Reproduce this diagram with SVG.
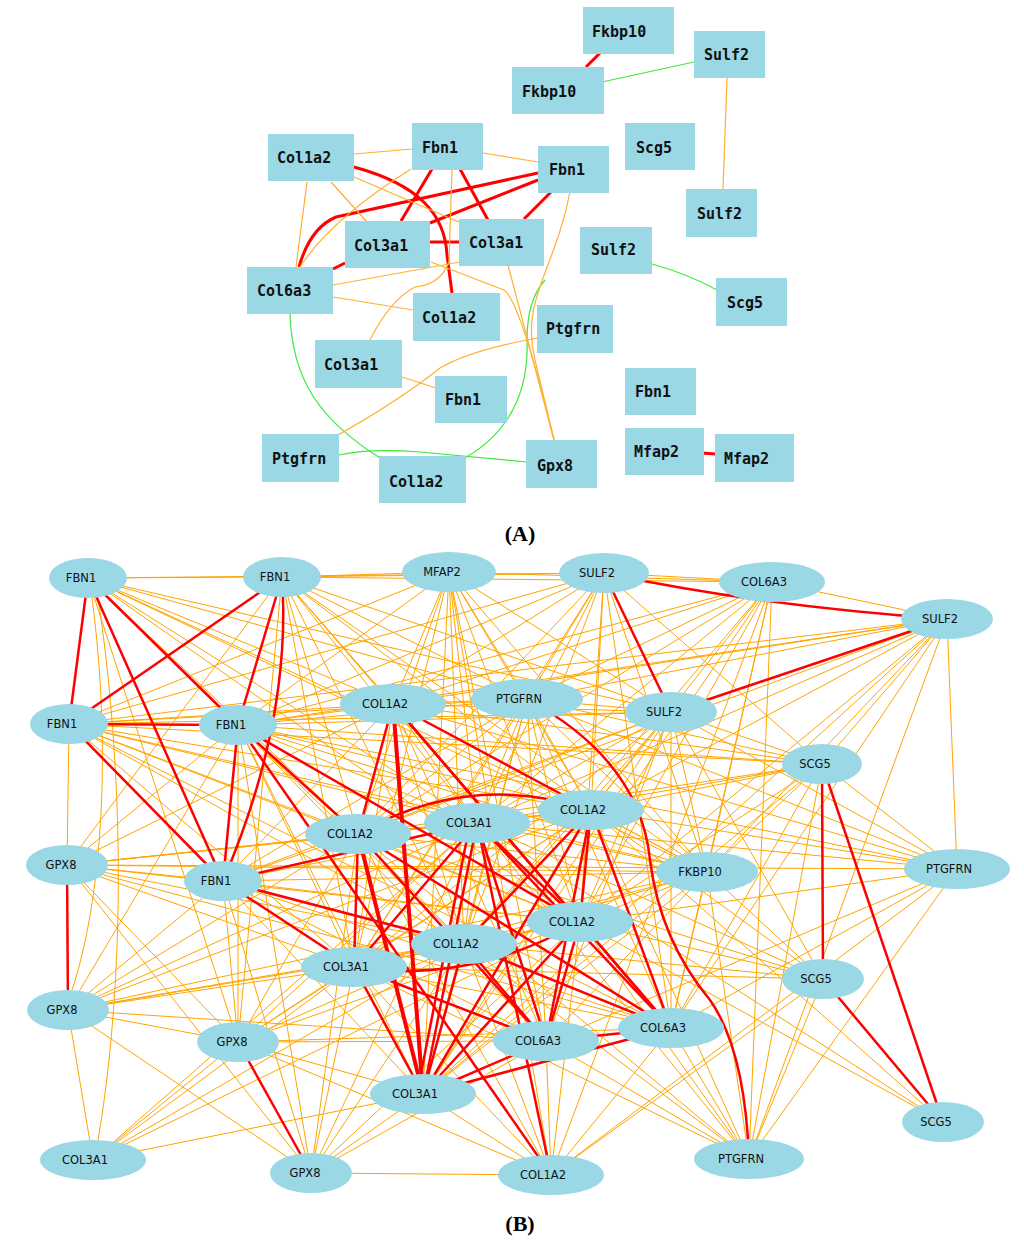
<svg xmlns="http://www.w3.org/2000/svg" width="1024" height="1247" viewBox="0 0 1024 1247">
<style>
.o{stroke:#FFA500;stroke-width:1;fill:none}
.r{stroke:#F00;stroke-width:2.5;fill:none}
.rw{stroke:#F00;stroke-width:4;fill:none}
.ra{stroke:#F00;stroke-width:3;fill:none}
.g{stroke:#3EE83E;stroke-width:1.2;fill:none}
.oa{stroke:#FFB030;stroke-width:1.2;fill:none}
.n rect,.n ellipse{fill:#9AD8E6}
.ta{font-family:"DejaVu Sans Mono",monospace;font-weight:bold;font-size:15px;fill:#111}
.tb{font-family:"DejaVu Sans",sans-serif;font-size:11.5px;fill:#111;text-anchor:middle}
.cap{font-family:"Liberation Serif",serif;font-weight:bold;font-size:22px;text-anchor:middle;fill:#000}
</style>
<rect width="1024" height="1247" fill="#fff"/>

<g id="edges-A">
<path class="ra" d="M600 53L586 67"/>
<path class="ra" d="M354 167C420 185 445 215 447 255L452 293"/>
<path class="ra" d="M432 169L401 221"/>
<path class="ra" d="M460 169L488 220"/>
<path class="ra" d="M538 180L430 223"/>
<path class="ra" d="M538 173L336 217Q310 228 299 267"/>
<path class="ra" d="M551 192L524 219"/>
<path class="ra" d="M430 242L459 242"/>
<path class="ra" d="M333 269L345 263"/>
<path class="ra" d="M702 453L715 454"/>
<path class="g" d="M602 82L694 62"/>
<path class="g" d="M652 264Q688 274 717 290"/>
<path class="g" d="M290 314C292 380 320 420 380 458"/>
<path class="g" d="M339 455Q370 448 420 452L527 462"/>
<path class="g" d="M465 458Q530 420 527 340Q527 300 545 280"/>
<path class="oa" d="M727 78L723 189"/>
<path class="oa" d="M354 154L412 149"/>
<path class="oa" d="M483 153L538 162"/>
<path class="oa" d="M307 182L296 267"/>
<path class="oa" d="M331 182L367 222"/>
<path class="oa" d="M354 177L459 222"/>
<path class="oa" d="M411 169Q330 220 300 267"/>
<path class="oa" d="M452 170L449 262Q440 285 415 287Q390 300 370 340"/>
<path class="oa" d="M333 285L460 262"/>
<path class="oa" d="M333 297L413 310"/>
<path class="oa" d="M431 262L504 290Q520 300 554 440"/>
<path class="oa" d="M508 265L554 440"/>
<path class="oa" d="M570 192C555 270 520 300 535 360L554 440"/>
<path class="oa" d="M538 338Q470 350 440 368Q400 400 338 435"/>
<path class="oa" d="M402 377L436 388"/>
</g>

<g id="nodes-A">
<g id="a-fkbp10-1" class="n"><rect x="583" y="7" width="91" height="47"/><text class="ta" x="592" y="37">Fkbp10</text></g>
<g id="a-fkbp10-2" class="n"><rect x="512" y="67" width="92" height="47"/><text class="ta" x="522" y="97">Fkbp10</text></g>
<g id="a-sulf2-1" class="n"><rect x="694" y="31" width="71" height="47"/><text class="ta" x="704" y="60">Sulf2</text></g>
<g id="a-col1a2-1" class="n"><rect x="268" y="134" width="86" height="47"/><text class="ta" x="277" y="163">Col1a2</text></g>
<g id="a-fbn1-1" class="n"><rect x="412" y="123" width="71" height="47"/><text class="ta" x="422" y="153">Fbn1</text></g>
<g id="a-fbn1-2" class="n"><rect x="538" y="146" width="71" height="47"/><text class="ta" x="549" y="175">Fbn1</text></g>
<g id="a-scg5-1" class="n"><rect x="625" y="123" width="70" height="47"/><text class="ta" x="636" y="153">Scg5</text></g>
<g id="a-sulf2-2" class="n"><rect x="686" y="189" width="71" height="48"/><text class="ta" x="697" y="219">Sulf2</text></g>
<g id="a-col3a1-1" class="n"><rect x="345" y="221" width="85" height="47"/><text class="ta" x="354" y="251">Col3a1</text></g>
<g id="a-col3a1-2" class="n"><rect x="459" y="219" width="85" height="47"/><text class="ta" x="469" y="248">Col3a1</text></g>
<g id="a-sulf2-3" class="n"><rect x="580" y="227" width="72" height="47"/><text class="ta" x="591" y="255">Sulf2</text></g>
<g id="a-scg5-2" class="n"><rect x="716" y="278" width="71" height="48"/><text class="ta" x="727" y="308">Scg5</text></g>
<g id="a-col6a3" class="n"><rect x="247" y="267" width="86" height="47"/><text class="ta" x="257" y="296">Col6a3</text></g>
<g id="a-col1a2-2" class="n"><rect x="413" y="293" width="87" height="48"/><text class="ta" x="422" y="323">Col1a2</text></g>
<g id="a-ptgfrn-1" class="n"><rect x="537" y="305" width="76" height="48"/><text class="ta" x="546" y="334">Ptgfrn</text></g>
<g id="a-col3a1-3" class="n"><rect x="315" y="340" width="87" height="48"/><text class="ta" x="324" y="370">Col3a1</text></g>
<g id="a-fbn1-3" class="n"><rect x="435" y="376" width="72" height="47"/><text class="ta" x="445" y="405">Fbn1</text></g>
<g id="a-fbn1-4" class="n"><rect x="625" y="368" width="71" height="47"/><text class="ta" x="635" y="397">Fbn1</text></g>
<g id="a-ptgfrn-2" class="n"><rect x="262" y="434" width="77" height="48"/><text class="ta" x="272" y="464">Ptgfrn</text></g>
<g id="a-col1a2-3" class="n"><rect x="379" y="456" width="87" height="47"/><text class="ta" x="389" y="487">Col1a2</text></g>
<g id="a-gpx8" class="n"><rect x="526" y="440" width="71" height="48"/><text class="ta" x="537" y="471">Gpx8</text></g>
<g id="a-mfap2-1" class="n"><rect x="625" y="428" width="79" height="47"/><text class="ta" x="634" y="457">Mfap2</text></g>
<g id="a-mfap2-2" class="n"><rect x="715" y="434" width="79" height="48"/><text class="ta" x="724" y="464">Mfap2</text></g>
</g>
<text class="cap" x="520" y="541">(A)</text>

<g id="edges-B">
<g class="o">
<path d="M393 704L527 699"/><path d="M393 704L671 712"/><path d="M393 704L591 810"/><path d="M393 704L477 823"/><path d="M393 704L358 834"/><path d="M393 704L707 872"/><path d="M393 704L580 922"/><path d="M393 704L464 944"/><path d="M393 704L354 967"/><path d="M393 704L546 1041"/><path d="M393 704L671 1028"/><path d="M393 704L423 1094"/>
<path d="M527 699L671 712"/><path d="M527 699L591 810"/><path d="M527 699L477 823"/><path d="M527 699L358 834"/><path d="M527 699L707 872"/><path d="M527 699L580 922"/><path d="M527 699L464 944"/><path d="M527 699L354 967"/><path d="M527 699L546 1041"/><path d="M527 699L671 1028"/><path d="M527 699L423 1094"/>
<path d="M671 712L591 810"/><path d="M671 712L477 823"/><path d="M671 712L358 834"/><path d="M671 712L707 872"/><path d="M671 712L580 922"/><path d="M671 712L464 944"/><path d="M671 712L354 967"/><path d="M671 712L546 1041"/><path d="M671 712L671 1028"/><path d="M671 712L423 1094"/>
<path d="M591 810L477 823"/><path d="M591 810L358 834"/><path d="M591 810L707 872"/><path d="M591 810L580 922"/><path d="M591 810L464 944"/><path d="M591 810L354 967"/><path d="M591 810L546 1041"/><path d="M591 810L671 1028"/><path d="M591 810L423 1094"/>
<path d="M477 823L358 834"/><path d="M477 823L707 872"/><path d="M477 823L580 922"/><path d="M477 823L464 944"/><path d="M477 823L354 967"/><path d="M477 823L546 1041"/><path d="M477 823L671 1028"/><path d="M477 823L423 1094"/>
<path d="M358 834L707 872"/><path d="M358 834L580 922"/><path d="M358 834L464 944"/><path d="M358 834L354 967"/><path d="M358 834L546 1041"/><path d="M358 834L671 1028"/><path d="M358 834L423 1094"/>
<path d="M707 872L580 922"/><path d="M707 872L464 944"/><path d="M707 872L354 967"/><path d="M707 872L546 1041"/><path d="M707 872L671 1028"/><path d="M707 872L423 1094"/>
<path d="M580 922L464 944"/><path d="M580 922L354 967"/><path d="M580 922L546 1041"/><path d="M580 922L671 1028"/><path d="M580 922L423 1094"/>
<path d="M464 944L354 967"/><path d="M464 944L546 1041"/><path d="M464 944L671 1028"/><path d="M464 944L423 1094"/>
<path d="M354 967L546 1041"/><path d="M354 967L671 1028"/><path d="M354 967L423 1094"/>
<path d="M546 1041L671 1028"/><path d="M546 1041L423 1094"/><path d="M671 1028L423 1094"/>
<path d="M88 578L282 577"/><path d="M88 578L393 704"/><path d="M88 578L527 699"/><path d="M88 578L671 712"/><path d="M88 578L591 810"/><path d="M88 578L477 823"/><path d="M88 578L358 834"/><path d="M88 578L707 872"/><path d="M88 578L580 922"/><path d="M88 578L238 1042"/><path d="M88 578L604 573"/>
<path d="M92 598C112 750 102 900 72 990"/><path d="M98 597C128 800 122 1000 98 1140"/>
<path d="M282 577L449 572"/><path d="M282 577L604 573"/><path d="M282 577L393 704"/><path d="M282 577L527 699"/><path d="M282 577L671 712"/><path d="M282 577L591 810"/><path d="M282 577L477 823"/><path d="M282 577L358 834"/><path d="M282 577L464 944"/><path d="M282 577L707 872"/><path d="M282 577L671 1028"/><path d="M282 577L354 967"/><path d="M282 577L238 1042"/><path d="M282 577L580 922"/><path d="M282 577L67 865"/><path d="M282 577L772 582"/>
<path d="M449 572L393 704"/><path d="M449 572L527 699"/><path d="M449 572L477 823"/><path d="M449 572L591 810"/><path d="M449 572L358 834"/><path d="M449 572L580 922"/><path d="M449 572L464 944"/><path d="M449 572L238 725"/><path d="M449 572L69 724"/><path d="M449 572L671 712"/><path d="M449 572L546 1041"/><path d="M449 572L423 1094"/><path d="M449 572L707 872"/><path d="M449 572L772 582"/><path d="M449 572L551 1175"/><path d="M449 572L354 967"/>
<path d="M604 573L238 725"/><path d="M604 573L393 704"/><path d="M604 573L527 699"/><path d="M604 573L477 823"/><path d="M604 573L591 810"/><path d="M604 573L358 834"/><path d="M604 573L707 872"/><path d="M604 573L580 922"/><path d="M604 573L671 1028"/><path d="M604 573L354 967"/><path d="M604 573L464 944"/><path d="M604 573L822 764"/><path d="M604 573L69 724"/><path d="M604 573L772 582"/>
<path d="M772 582L238 725"/><path d="M772 582L393 704"/><path d="M772 582L477 823"/><path d="M772 582L591 810"/><path d="M772 582L358 834"/><path d="M772 582L580 922"/><path d="M772 582L671 1028"/><path d="M772 582L551 1175"/><path d="M772 582L749 1159"/><path d="M772 582L707 872"/><path d="M772 582L423 1094"/><path d="M772 582L464 944"/><path d="M772 582L947 619"/><path d="M772 582L527 699"/>
<path d="M947 619L238 725"/><path d="M947 619L393 704"/><path d="M947 619L527 699"/><path d="M947 619L591 810"/><path d="M947 619L477 823"/><path d="M947 619L707 872"/><path d="M947 619L822 764"/><path d="M947 619L957 869"/><path d="M947 619L580 922"/><path d="M947 619L671 1028"/><path d="M947 619L69 724"/><path d="M947 619L749 1159"/><path d="M947 619L358 834"/><path d="M947 619L423 1094"/>
<path d="M69 724L67 865"/><path d="M69 724L393 704"/><path d="M69 724L527 699"/><path d="M69 724L477 823"/><path d="M69 724L591 810"/><path d="M69 724L358 834"/><path d="M69 724L707 872"/><path d="M69 724L580 922"/><path d="M69 724L671 1028"/><path d="M69 724L671 712"/><path d="M69 724L354 967"/><path d="M69 724L464 944"/><path d="M69 724L822 764"/>
<path d="M238 725L393 704"/><path d="M238 725L527 699"/><path d="M238 725L671 712"/><path d="M238 725L591 810"/><path d="M238 725L477 823"/><path d="M238 725L707 872"/><path d="M238 725L464 944"/><path d="M238 725L354 967"/><path d="M238 725L546 1041"/><path d="M238 725L67 865"/><path d="M238 725L68 1010"/><path d="M238 725L238 1042"/><path d="M238 725L311 1173"/><path d="M238 725L822 764"/><path d="M238 725L957 869"/><path d="M238 725L423 1094"/>
<path d="M67 865L223 881"/><path d="M67 865L393 704"/><path d="M67 865L358 834"/><path d="M67 865L477 823"/><path d="M67 865L591 810"/><path d="M67 865L580 922"/><path d="M67 865L464 944"/><path d="M67 865L354 967"/><path d="M67 865L671 1028"/><path d="M67 865L707 872"/><path d="M67 865L238 1042"/><path d="M67 865L311 1173"/><path d="M67 865L957 869"/>
<path d="M68 1010L93 1160"/><path d="M68 1010L223 881"/><path d="M68 1010L358 834"/><path d="M68 1010L477 823"/><path d="M68 1010L591 810"/><path d="M68 1010L464 944"/><path d="M68 1010L354 967"/><path d="M68 1010L580 922"/><path d="M68 1010L238 1042"/><path d="M68 1010L311 1173"/><path d="M68 1010L546 1041"/><path d="M68 1010L707 872"/>
<path d="M238 1042L223 881"/><path d="M238 1042L358 834"/><path d="M238 1042L477 823"/><path d="M238 1042L591 810"/><path d="M238 1042L580 922"/><path d="M238 1042L464 944"/><path d="M238 1042L354 967"/><path d="M238 1042L93 1160"/><path d="M238 1042L546 1041"/><path d="M238 1042L671 1028"/><path d="M238 1042L551 1175"/><path d="M238 1042L423 1094"/>
<path d="M93 1160L354 967"/><path d="M93 1160L464 944"/><path d="M93 1160L477 823"/><path d="M93 1160L580 922"/><path d="M93 1160L423 1094"/>
<path d="M311 1173L551 1175"/><path d="M311 1173L423 1094"/><path d="M311 1173L354 967"/><path d="M311 1173L223 881"/><path d="M311 1173L464 944"/><path d="M311 1173L358 834"/><path d="M311 1173L477 823"/><path d="M311 1173L580 922"/><path d="M311 1173L546 1041"/>
<path d="M551 1175L423 1094"/><path d="M551 1175L546 1041"/><path d="M551 1175L671 1028"/><path d="M551 1175L354 967"/><path d="M551 1175L464 944"/><path d="M551 1175L580 922"/><path d="M551 1175L358 834"/><path d="M551 1175L477 823"/><path d="M551 1175L957 869"/>
<path d="M749 1159L671 1028"/><path d="M749 1159L546 1041"/><path d="M749 1159L580 922"/><path d="M749 1159L591 810"/><path d="M749 1159L477 823"/><path d="M749 1159L464 944"/><path d="M749 1159L354 967"/><path d="M749 1159L822 764"/><path d="M749 1159L957 869"/><path d="M749 1159L823 979"/><path d="M749 1159L707 872"/><path d="M749 1159L358 834"/>
<path d="M943 1122L591 810"/><path d="M943 1122L477 823"/><path d="M943 1122L580 922"/>
<path d="M823 979L591 810"/><path d="M823 979L477 823"/><path d="M823 979L580 922"/><path d="M823 979L464 944"/><path d="M823 979L354 967"/><path d="M823 979L551 1175"/><path d="M823 979L358 834"/><path d="M823 979L671 712"/><path d="M823 979L707 872"/>
<path d="M822 764L671 712"/><path d="M822 764L393 704"/><path d="M822 764L527 699"/><path d="M822 764L591 810"/><path d="M822 764L477 823"/><path d="M822 764L358 834"/><path d="M822 764L707 872"/><path d="M822 764L580 922"/><path d="M822 764L671 1028"/><path d="M822 764L423 1094"/>
<path d="M957 869L671 712"/><path d="M957 869L393 704"/><path d="M957 869L527 699"/><path d="M957 869L591 810"/><path d="M957 869L477 823"/><path d="M957 869L580 922"/><path d="M957 869L671 1028"/><path d="M957 869L423 1094"/><path d="M957 869L822 764"/>
<path d="M223 881L393 704"/><path d="M223 881L527 699"/><path d="M223 881L671 712"/><path d="M223 881L591 810"/><path d="M223 881L358 834"/><path d="M223 881L707 872"/><path d="M223 881L580 922"/><path d="M223 881L671 1028"/><path d="M223 881L546 1041"/><path d="M223 881L423 1094"/>
</g>
<g class="r">
<path d="M88 578L69 724"/><path d="M88 578L238 725"/><path d="M88 578L223 881"/>
<path d="M282 577L69 724"/><path d="M282 577L238 725"/><path d="M282 577Q292 720 223 881"/>
<path d="M69 724L238 725"/><path d="M69 724L223 881"/><path d="M238 725L223 881"/>
<path d="M238 725L358 834"/><path d="M238 725L580 922"/><path d="M238 725L551 1175"/>
<path d="M223 881L477 823"/><path d="M223 881L354 967"/><path d="M223 881L464 944"/>
<path d="M67 865L68 1010"/><path d="M238 1042L311 1173"/>
<path d="M604 573Q760 606 947 619"/><path d="M604 573L671 712"/><path d="M947 619L671 712"/>
<path d="M822 764L823 979"/><path d="M822 764L943 1122"/><path d="M823 979L943 1122"/>
<path d="M527 699Q640 760 650 860Q660 940 710 1000Q745 1050 749 1159"/>
<path d="M393 704L358 834"/><path d="M393 704L591 810"/><path d="M393 704L580 922"/><path d="M393 704L671 1028"/>
<path d="M358 834Q470 770 591 810"/><path d="M358 834L671 1028"/><path d="M358 834L546 1041"/><path d="M358 834L354 967"/>
<path d="M477 823L423 1094"/><path d="M470 823L417 1094"/><path d="M477 823L546 1041"/><path d="M477 823L671 1028"/><path d="M477 823L580 922"/><path d="M477 823L354 967"/><path d="M477 823L551 1175"/>
<path d="M591 810L580 922"/><path d="M591 810L671 1028"/><path d="M591 810L464 944"/><path d="M591 810L423 1094"/><path d="M591 810L546 1041"/>
<path d="M580 922L546 1041"/><path d="M580 922L671 1028"/><path d="M580 922L423 1094"/>
<path d="M464 944L423 1094"/><path d="M464 944L546 1041"/><path d="M464 944L671 1028"/>
<path d="M354 967Q470 985 580 922"/><path d="M354 967L546 1041"/><path d="M354 967L423 1094"/>
<path d="M546 1041L671 1028"/><path d="M546 1041L423 1094"/><path d="M671 1028L423 1094"/>
</g>
<path class="rw" d="M393 704L423 1094"/>
<path class="rw" d="M358 834L423 1094"/>
</g>

<g id="nodes-B" class="n">
<g id="b-fbn1-1"><ellipse cx="88" cy="578" rx="39" ry="20"/><text class="tb" x="81" y="582">FBN1</text></g>
<g id="b-fbn1-2"><ellipse cx="282" cy="577" rx="39" ry="20"/><text class="tb" x="275" y="581">FBN1</text></g>
<g id="b-mfap2"><ellipse cx="449" cy="572" rx="47" ry="20"/><text class="tb" x="442" y="576">MFAP2</text></g>
<g id="b-sulf2-1"><ellipse cx="604" cy="573" rx="45" ry="20"/><text class="tb" x="597" y="577">SULF2</text></g>
<g id="b-col6a3-1"><ellipse cx="772" cy="582" rx="53" ry="20"/><text class="tb" x="764" y="586">COL6A3</text></g>
<g id="b-sulf2-2"><ellipse cx="947" cy="619" rx="46" ry="20"/><text class="tb" x="940" y="623">SULF2</text></g>
<g id="b-fbn1-3"><ellipse cx="69" cy="724" rx="39" ry="20"/><text class="tb" x="62" y="728">FBN1</text></g>
<g id="b-fbn1-4"><ellipse cx="238" cy="725" rx="39" ry="20"/><text class="tb" x="231" y="729">FBN1</text></g>
<g id="b-col1a2-1"><ellipse cx="393" cy="704" rx="53" ry="20"/><text class="tb" x="385" y="708">COL1A2</text></g>
<g id="b-ptgfrn-1"><ellipse cx="527" cy="699" rx="56" ry="20"/><text class="tb" x="519" y="703">PTGFRN</text></g>
<g id="b-sulf2-3"><ellipse cx="671" cy="712" rx="46" ry="20"/><text class="tb" x="664" y="716">SULF2</text></g>
<g id="b-scg5-1"><ellipse cx="822" cy="764" rx="40" ry="20"/><text class="tb" x="815" y="768">SCG5</text></g>
<g id="b-col1a2-2"><ellipse cx="591" cy="810" rx="53" ry="20"/><text class="tb" x="583" y="814">COL1A2</text></g>
<g id="b-col3a1-1"><ellipse cx="477" cy="823" rx="53" ry="20"/><text class="tb" x="469" y="827">COL3A1</text></g>
<g id="b-col1a2-3"><ellipse cx="358" cy="834" rx="53" ry="20"/><text class="tb" x="350" y="838">COL1A2</text></g>
<g id="b-gpx8-1"><ellipse cx="67" cy="865" rx="41" ry="20"/><text class="tb" x="61" y="869">GPX8</text></g>
<g id="b-fbn1-5"><ellipse cx="223" cy="881" rx="39" ry="20"/><text class="tb" x="216" y="885">FBN1</text></g>
<g id="b-fkbp10"><ellipse cx="707" cy="872" rx="51" ry="20"/><text class="tb" x="700" y="876">FKBP10</text></g>
<g id="b-ptgfrn-2"><ellipse cx="957" cy="869" rx="53" ry="20"/><text class="tb" x="949" y="873">PTGFRN</text></g>
<g id="b-col1a2-4"><ellipse cx="580" cy="922" rx="53" ry="20"/><text class="tb" x="572" y="926">COL1A2</text></g>
<g id="b-col1a2-5"><ellipse cx="464" cy="944" rx="53" ry="20"/><text class="tb" x="456" y="948">COL1A2</text></g>
<g id="b-col3a1-2"><ellipse cx="354" cy="967" rx="53" ry="20"/><text class="tb" x="346" y="971">COL3A1</text></g>
<g id="b-scg5-2"><ellipse cx="823" cy="979" rx="41" ry="20"/><text class="tb" x="816" y="983">SCG5</text></g>
<g id="b-gpx8-2"><ellipse cx="68" cy="1010" rx="41" ry="20"/><text class="tb" x="62" y="1014">GPX8</text></g>
<g id="b-gpx8-3"><ellipse cx="238" cy="1042" rx="41" ry="20"/><text class="tb" x="232" y="1046">GPX8</text></g>
<g id="b-col6a3-2"><ellipse cx="546" cy="1041" rx="53" ry="20"/><text class="tb" x="538" y="1045">COL6A3</text></g>
<g id="b-col6a3-3"><ellipse cx="671" cy="1028" rx="53" ry="20"/><text class="tb" x="663" y="1032">COL6A3</text></g>
<g id="b-col3a1-3"><ellipse cx="423" cy="1094" rx="53" ry="20"/><text class="tb" x="415" y="1098">COL3A1</text></g>
<g id="b-scg5-3"><ellipse cx="943" cy="1122" rx="41" ry="20"/><text class="tb" x="936" y="1126">SCG5</text></g>
<g id="b-col3a1-4"><ellipse cx="93" cy="1160" rx="53" ry="20"/><text class="tb" x="85" y="1164">COL3A1</text></g>
<g id="b-gpx8-4"><ellipse cx="311" cy="1173" rx="41" ry="20"/><text class="tb" x="305" y="1177">GPX8</text></g>
<g id="b-col1a2-6"><ellipse cx="551" cy="1175" rx="53" ry="20"/><text class="tb" x="543" y="1179">COL1A2</text></g>
<g id="b-ptgfrn-3"><ellipse cx="749" cy="1159" rx="55" ry="20"/><text class="tb" x="741" y="1163">PTGFRN</text></g>
</g>
<text class="cap" x="520" y="1231">(B)</text>
</svg>
